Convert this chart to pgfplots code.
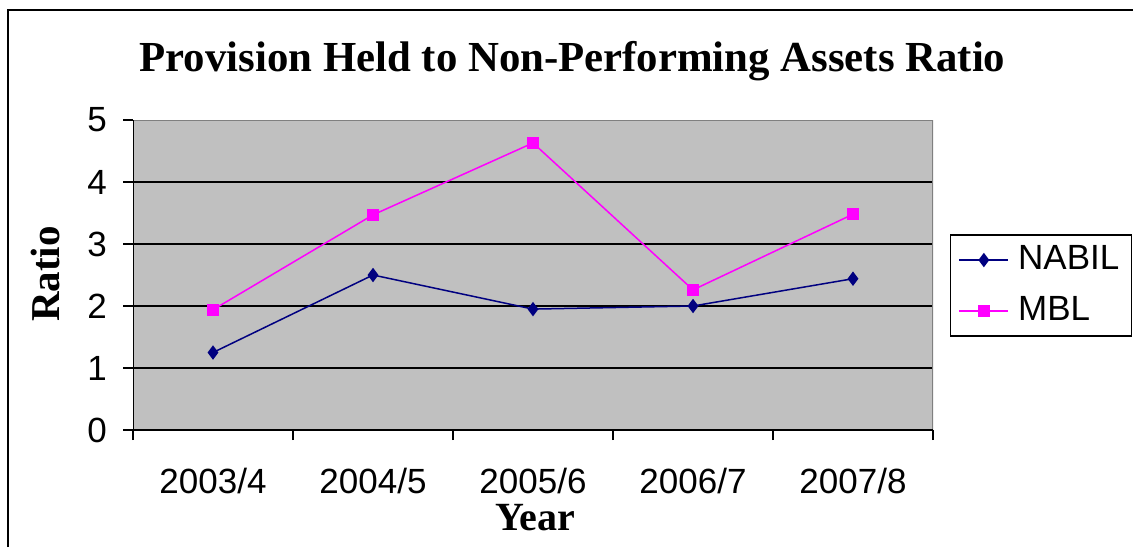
\documentclass[border=0pt]{standalone}
\usepackage{fontspec}
\setmainfont{Liberation Serif}
\newfontfamily\arial{Liberation Sans}
\usepackage{pgfplots}
\pgfplotsset{compat=1.18}
\definecolor{plotbg}{RGB}{192,192,192}
\definecolor{nabil}{RGB}{0,0,128}
\definecolor{mbl}{RGB}{255,0,255}
\newcommand\tickfont{\arial\fontsize{17.5}{20}\selectfont}
\begin{document}
\begin{tikzpicture}[x=0.5pt,y=0.5pt]
\useasboundingbox (0,0) rectangle (1133,547);
\draw[line width=1pt] (8,0) -- (8,537) -- (1133,537);
\node[anchor=base,font=\bfseries\fontsize{21.4}{24}\selectfont] at (572.5,475) {Provision Held to Non-Performing Assets Ratio};
\node[anchor=base,font=\bfseries\fontsize{20}{24}\selectfont] at (535,17) {Year};
\node[anchor=base,rotate=90,font=\bfseries\fontsize{20.5}{24}\selectfont] at (59,273) {Ratio};
\begin{axis}[at={(66.5pt,58.5pt)},anchor=south west,
  width=400pt,height=155pt,scale only axis,
  xmin=-0.5,xmax=4.5,ymin=0,ymax=5,
  axis background/.style={fill=plotbg},
  axis line style={draw=none},
  tick align=outside,major tick length=5pt,
  xtick pos=bottom,ytick pos=left,
  tick style={black,line width=0.6pt},
  xtick={-0.5,0.5,...,4.5},xticklabels={},
  extra x ticks={0,1,2,3,4},
  extra x tick labels={2003/4,2004/5,2005/6,2006/7,2007/8},
  extra x tick style={tick style={draw=none},
    xticklabel style={anchor=base,yshift=-26.5pt}},
  ytick={0,1,...,5},
  extra y ticks={1,2,3,4},extra y tick labels={},
  extra y tick style={grid=major,tick style={draw=none}},
  grid style={black,line width=0.7pt},
  yticklabel style={xshift=-4.5pt},
  ticklabel style={font=\tickfont},
  /pgf/number format/assume math mode=true,
  legend style={at={(1.24875,0.466)},anchor=east,draw=black,line width=0.7pt,
    fill=white,font=\tickfont,row sep=5pt,column sep=2.5pt,
    inner ysep=2.25pt,inner xsep=4pt,
    nodes={inner sep=2pt,text height=13pt,text depth=3.5pt}},
  legend cell align=left,
  legend image code/.code={\draw[mark repeat=2,mark phase=2,#1]
    plot coordinates {(0pt,0pt)(12.25pt,0pt)(24.5pt,0pt)};},
]
\addplot[nabil,line width=0.75pt,mark=diamond*,mark size=3pt,
  mark options={solid,fill=nabil,draw=nabil,/tikz/every mark/.append style={yscale=1,xscale=1.33}}]
  coordinates {(0,1.25)(1,2.50)(2,1.95)(3,2.00)(4,2.44)};
\addplot[mbl,line width=0.75pt,mark=square*,mark size=2.6pt,mark options={solid,fill=mbl,draw=mbl}]
  coordinates {(0,1.94)(1,3.47)(2,4.63)(3,2.26)(4,3.48)};
\legend{NABIL,MBL}
\draw[gray,line width=1pt] (rel axis cs:0,1) -- (rel axis cs:1,1) -- (rel axis cs:1,0);
\draw[black,line width=0.75pt] (rel axis cs:0,1) -- (rel axis cs:0,0) -- (rel axis cs:1,0);
\end{axis}
\end{tikzpicture}
\end{document}
